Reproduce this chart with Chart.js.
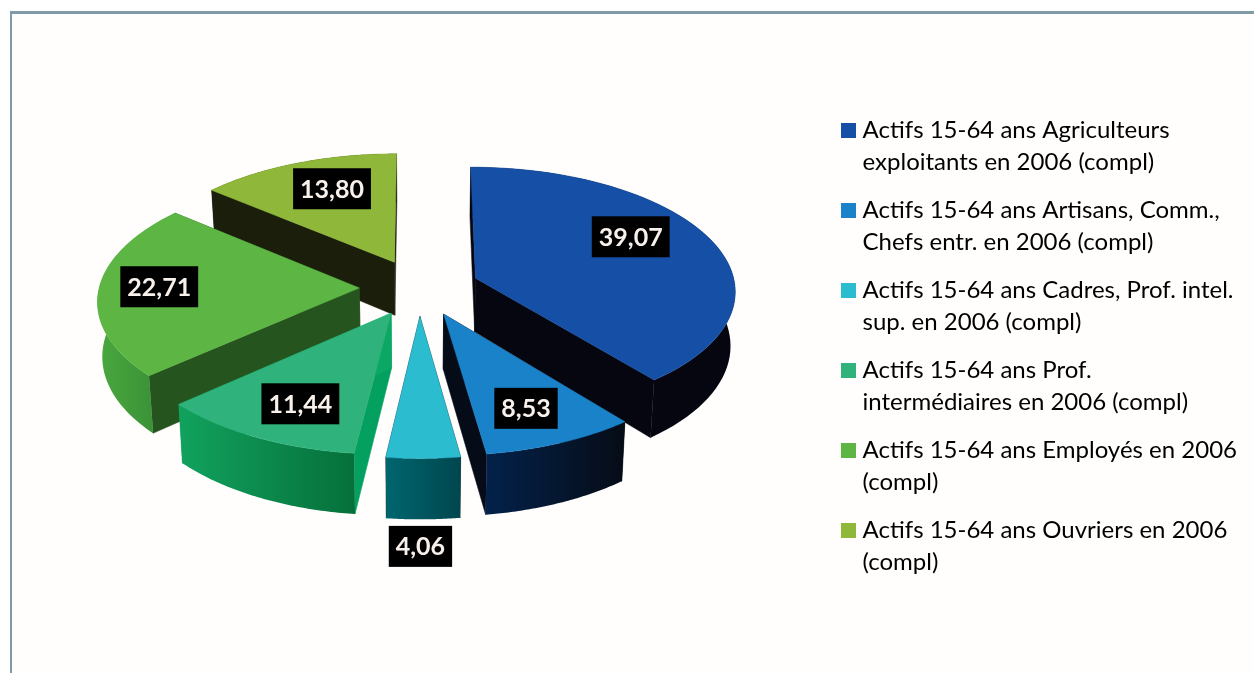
<!DOCTYPE html>
<html><head><meta charset="utf-8">
<style>
html,body{margin:0;padding:0;background:#fff;width:1254px;height:673px;overflow:hidden}
#frame{position:absolute;left:10px;top:11px;right:0;bottom:0;border-left:2px solid #7f9ba6;border-top:3px solid #7f9ba6;background:#fffefd}
#c{position:absolute;left:0;top:0}
</style>
<script src="https://cdn.jsdelivr.net/npm/chart.js@4"></script>
</head><body>
<div id="frame"></div>
<canvas id="c" width="1254" height="673"></canvas>
<script>
const categories = [
  ["Actifs 15-64 ans Agriculteurs","exploitants en 2006 (compl)"],
  ["Actifs 15-64 ans Artisans, Comm.,","Chefs entr. en 2006 (compl)"],
  ["Actifs 15-64 ans Cadres, Prof. intel.","sup. en 2006 (compl)"],
  ["Actifs 15-64 ans Prof.","intermédiaires en 2006 (compl)"],
  ["Actifs 15-64 ans Employés en 2006","(compl)"],
  ["Actifs 15-64 ans Ouvriers en 2006","(compl)"]
];
const values = [39.07, 8.53, 4.06, 11.44, 22.71, 13.80];
const topColors = ["#1650a6","#1a82c8","#2bbcd0","#30b27c","#5db644","#8fb83a"];
const wallStart = ["#05060f","#05090f","#0a0f18","#04a060","#26541f","#1a1e0a"];
const wallEnd   = ["#05060f","#060b18","#0a0f18","#0aa862","#26541f","#1a1e0a"];
const rimLeft   = ["#05060f","#03214a","#00666f","#11a25e","#4aa83e","#1a1e0a"];
const rimRight  = ["#05060f","#060c16","#00464e","#06703a","#358a35","#1a1e0a"];
const labelRadius = [0.72,0.745,1.53,0.735,0.77,0.71];
const labelAlong  = [0.43,0.53,0.54,0.45,0.52,0.56];
const drawOrder = [5,0,4,1,3,2];

const view = {dx:4, dy:-62.5, tilt:0.473, persp:0.0929, explode:60, depth:54, shrink:0.985};

function project(chartX, chartY, X, Y, R, z){
  const s = 1/(1 - view.persp*Y/R);
  const sh = z ? view.shrink : 1;
  return [chartX + view.dx + X*s*sh, chartY + view.dy + view.tilt*Y*s + (z?view.depth*s:0)];
}
function poly(ctx, pts, fill){
  ctx.beginPath();
  pts.forEach((p,i)=> i? ctx.lineTo(p[0],p[1]) : ctx.moveTo(p[0],p[1]));
  ctx.closePath();
  ctx.fillStyle = fill; ctx.fill();
  ctx.strokeStyle = fill instanceof CanvasGradient ? 'rgba(0,0,0,0)' : fill; ctx.lineWidth = 0.5; ctx.stroke();
}
const pie3d = {
  id:'pie3d',
  beforeDatasetsDraw(chart){
    const ctx = chart.ctx, arcs = chart.getDatasetMeta(0).data;
    ctx.save();
    drawOrder.forEach(i=>{
      const a = arcs[i], R = a.outerRadius, mid = (a.startAngle+a.endAngle)/2;
      const ox = Math.cos(mid)*view.explode, oy = Math.sin(mid)*view.explode;
      const pt = (ang,r,z)=>project(a.x,a.y,ox+Math.cos(ang)*r,oy+Math.sin(ang)*r,R,z);
      const n = 60, topRim=[], botRim=[];
      for(let k=0;k<=n;k++){
        const t = a.startAngle+(a.endAngle-a.startAngle)*k/n;
        topRim.push(pt(t,R,false)); botRim.push(pt(t,R,true));
      }
      const tipT = pt(0,0,false), tipB = pt(0,0,true);
      poly(ctx,[tipT,topRim[0],botRim[0],tipB],wallStart[i]);
      poly(ctx,[tipT,topRim[n],botRim[n],tipB],wallEnd[i]);
      const xs = topRim.map(p=>p[0]), xa=Math.min(...xs), xb=Math.max(...xs);
      const g = ctx.createLinearGradient(xa,0,xb,0);
      g.addColorStop(0,rimLeft[i]); g.addColorStop(1,rimRight[i]);
      poly(ctx,topRim.concat(botRim.slice().reverse()),g);
      poly(ctx,[tipT].concat(topRim),topColors[i]);
    });
    ctx.font = 'bold 25px Lato';
    ctx.textAlign='center'; ctx.textBaseline='middle';
    arcs.forEach((a,i)=>{
      const R=a.outerRadius, mid=(a.startAngle+a.endAngle)/2;
      const ox=Math.cos(mid)*view.explode, oy=Math.sin(mid)*view.explode;
      const t=a.startAngle+(a.endAngle-a.startAngle)*labelAlong[i], r=R*labelRadius[i];
      const p=project(a.x,a.y,ox+Math.cos(t)*r,oy+Math.sin(t)*r,R,false);
      const txt=values[i].toFixed(2).replace('.',',');
      const w=ctx.measureText(txt).width+14, h=41;
      ctx.fillStyle='#000'; ctx.fillRect(p[0]-w/2,p[1]-h/2,w,h);
      ctx.fillStyle='#f8f0ea'; ctx.fillText(txt,p[0],p[1]+1);
    });
    ctx.restore();
    return false;
  }
};
function swatch(color){
  const c=document.createElement('canvas'); c.width=15;c.height=15;
  const x=c.getContext('2d'); x.fillStyle=color; x.fillRect(0,0,15,15); return c;
}
new Chart(document.getElementById('c'),{
  type:'pie',
  data:{labels:categories,datasets:[{data:values,backgroundColor:topColors,borderWidth:0,radius:260}]},
  options:{
    responsive:false,animation:false,
    layout:{padding:{top:27,right:7,bottom:0,left:0}},
    plugins:{
      tooltip:{enabled:false},
      legend:{
        position:'right',
        labels:{
          usePointStyle:true,pointStyleWidth:4,boxHeight:15,
          padding:16,color:'#2b2b2b',
          font:{family:'Lato',size:24,lineHeight:'32px'},
          generateLabels(chart){
            return chart.data.labels.map((t,i)=>({text:t,fillStyle:topColors[i],strokeStyle:topColors[i],lineWidth:0,hidden:false,index:i,pointStyle:swatch(topColors[i])}));
          }
        }
      }
    }
  },
  plugins:[pie3d]
});
</script>
</body></html>
